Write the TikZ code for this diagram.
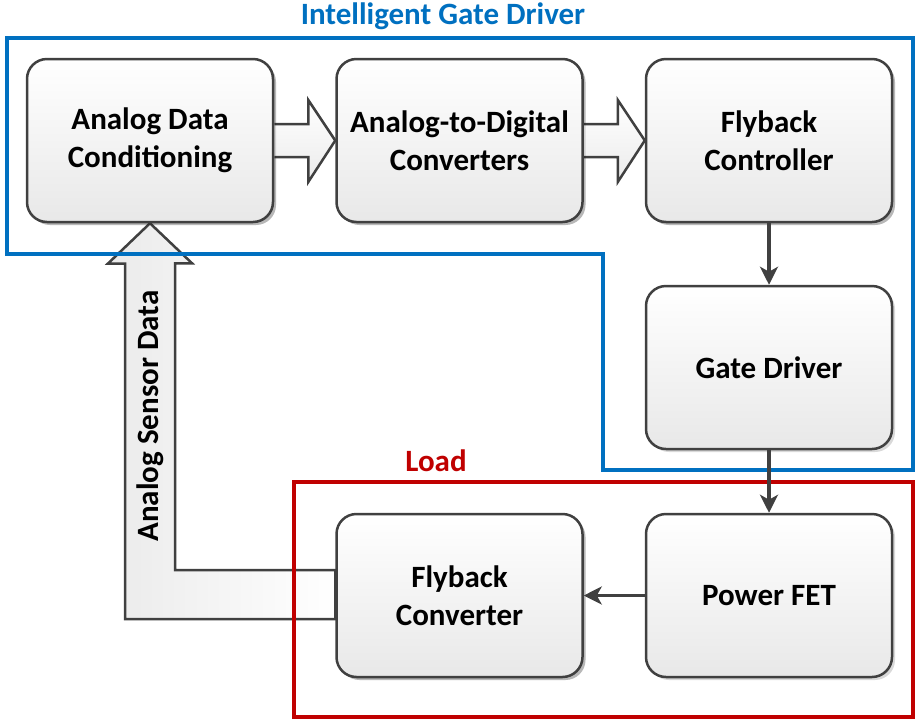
\documentclass[tikz,border=0pt]{standalone}
\usepackage{fontspec}
\setmainfont{Carlito}
\usetikzlibrary{arrows.meta,calc,shadows}
\definecolor{boxgray}{HTML}{404040}
\definecolor{igdblue}{HTML}{0070C0}
\definecolor{loadred}{HTML}{C00000}
\tikzset{
  blockbox/.style={rounded corners=20pt, draw=boxgray, line width=2.5pt,
    top color=white, bottom color=black!9, minimum width=246pt, minimum height=163pt,
    align=center, inner sep=0pt, font=\fontsize{31}{38}\selectfont\bfseries,
    drop shadow={shadow xshift=3pt, shadow yshift=-3pt, opacity=0.15, fill=black}},
  flowarrow/.style={draw=boxgray, line width=3.2pt, -{Stealth[length=18pt,width=18pt,inset=5pt]}},
  fatarrow/.style={draw=boxgray, line width=2.5pt, line join=miter, top color=white, bottom color=black!8},
  outline/.style={line width=4pt},
  grouplabel/.style={font=\fontsize{31}{38}\selectfont\bfseries}
}
\begin{document}
\begin{tikzpicture}[x=1pt,y=-1pt]
\useasboundingbox (0,0) rectangle (915,721);
\fill[white] (0,0) rectangle (915,721);

% node coordinates
\coordinate (adcpos) at (150,140.5);
\coordinate (atdpos) at (459.5,140.5);
\coordinate (fcpos) at (769,140.5);
\coordinate (gdpos) at (769,367.5);
\coordinate (fetpos) at (769,595.5);
\coordinate (convpos) at (459.5,595.5);

% invisible placement for anchors
\path node[blockbox, opacity=0, drop shadow={opacity=0}] (adc0) at (adcpos) {}
      node[blockbox, opacity=0, drop shadow={opacity=0}] (conv0) at (convpos) {};

% Big L-shaped block arrow (Analog Sensor Data)
\draw[fatarrow, shading angle=90, left color=black!8, right color=white]
  (adc0.south) -- ++(42,40) -- ++(-17,0) -- (175,570) -- ($(conv0.west)+(0,-25.5)$)
  -- ($(conv0.west)+(0,23.5)$) -- (125,619) -- (125,263.5) -- (108,263.5) -- cycle;
\node[grouplabel, rotate=90] (asd) at (150,416) {Analog Sensor Data};

% Group outlines
\draw[outline, igdblue] (7,38) -- (913,38) -- (913,470) -- (603,470) -- (603,254) -- (7,254) -- cycle;
\draw[outline, loadred] (294,482) rectangle (913,717);
\node[grouplabel, text=igdblue] (igdlabel) at (443,16) {Intelligent Gate Driver};
\node[grouplabel, text=loadred] (loadlabel) at (436,461) {Load};

% Block arrows between top boxes
\path node[blockbox, opacity=0, drop shadow={opacity=0}] (atd0) at (atdpos) {}
      node[blockbox, opacity=0, drop shadow={opacity=0}] (fc0) at (fcpos) {};
\draw[fatarrow]
  ($(adc0.east)+(0,-16.5)$) -- ++(34,0) -- ++(0,-24) -- (atd0.west) -- ($(adc0.east)+(34,41.5)$)
  -- ++(0,-25) -- ($(adc0.east)+(0,16.5)$);
\draw[fatarrow]
  ($(atd0.east)+(0,-16.5)$) -- ++(34,0) -- ++(0,-24) -- (fc0.west) -- ($(atd0.east)+(34,41.5)$)
  -- ++(0,-25) -- ($(atd0.east)+(0,16.5)$);

% Boxes
\node[blockbox] (adc) at (adcpos) {Analog Data\\Conditioning};
\node[blockbox] (atd) at (atdpos) {Analog-to-Digital\\Converters};
\node[blockbox] (fc) at (fcpos) {Flyback\\Controller};
\node[blockbox] (gd) at (gdpos) {Gate Driver};
\node[blockbox] (fet) at (fetpos) {Power FET};
\node[blockbox] (conv) at (convpos) {Flyback\\Converter};

% Flow arrows
\draw[flowarrow] (fc.south) -- (gd.north);
\draw[flowarrow] (gd.south) -- (fet.north);
\draw[flowarrow] (fet.west) -- (conv.east);
\end{tikzpicture}
\end{document}
